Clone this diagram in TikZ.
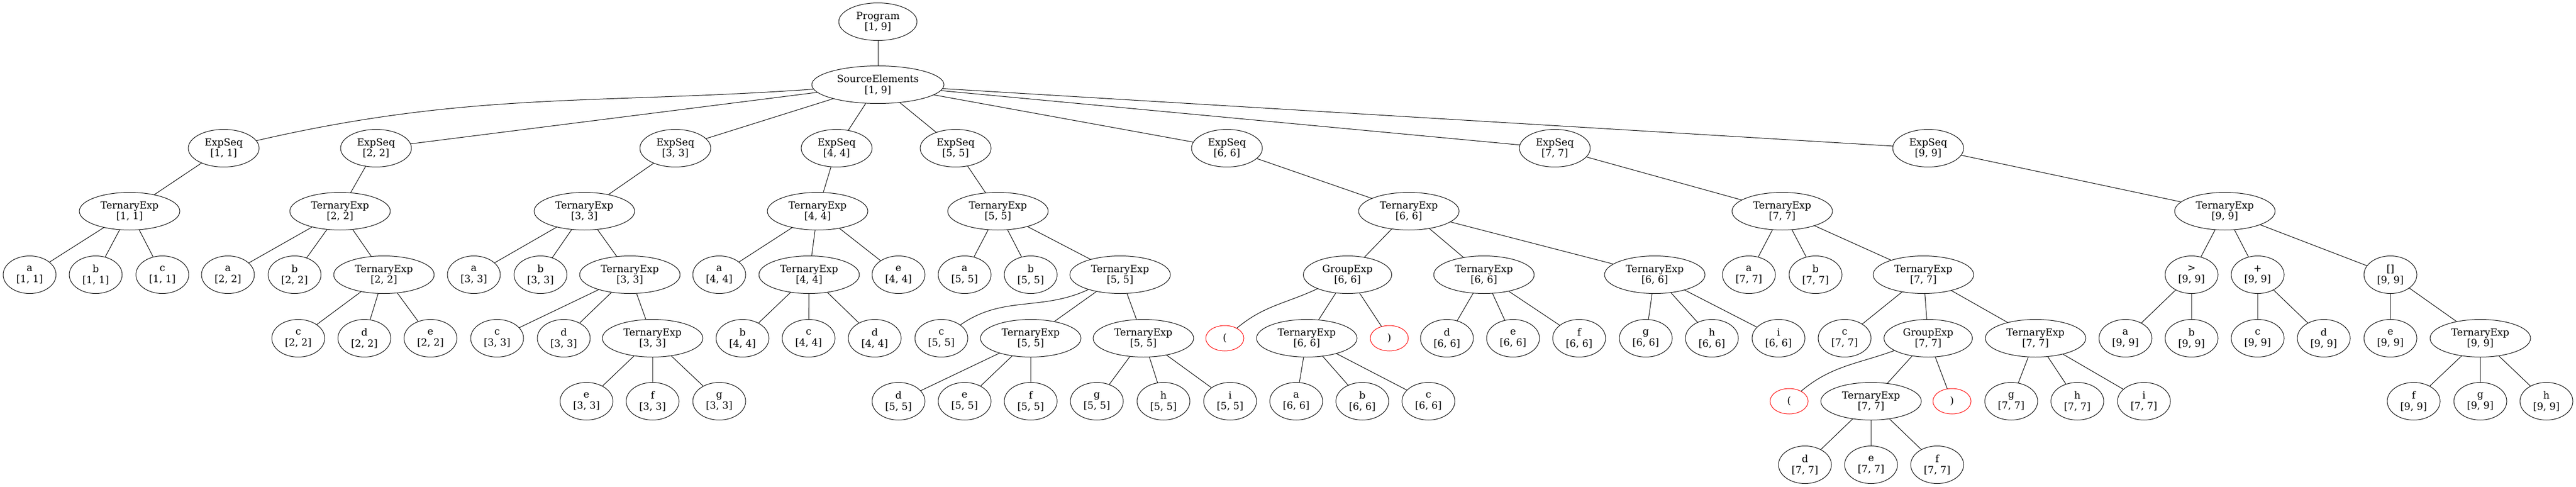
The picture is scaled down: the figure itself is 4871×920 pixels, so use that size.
\documentclass[tikz,border=0pt]{standalone}
\usepackage{fontspec}
\setmainfont{DejaVu Serif}
\usetikzlibrary{shapes.geometric}
\begin{document}
\begin{tikzpicture}[line cap=round,line join=round,x=0.75pt,y=0.75pt,line width=0.75pt,
	every node/.style={font=\fontsize{14}{15.5}\selectfont,align=center,inner sep=0pt},
	tn/.style={draw,ellipse,minimum height=53.25pt,minimum width=#1},
	tn/.default=75pt,
	paren/.style={draw=red,ellipse,minimum width=54pt,minimum height=36pt}]
				\useasboundingbox (0,0) rectangle (4871,-920);
				\node[tn=111pt] (prog) at (1660,-41) {Program\\{[1, 9]}};
				\node[tn=187.5pt] (se) at (1660,-160) {SourceElements\\{[1, 9]}};
				\node[tn=100.5pt] (es1) at (423,-280) {ExpSeq\\{[1, 1]}};
				\node[tn=100.5pt] (es2) at (711,-280) {ExpSeq\\{[2, 2]}};
				\node[tn=100.5pt] (es3) at (1277,-280) {ExpSeq\\{[3, 3]}};
				\node[tn=100.5pt] (es4) at (1582,-280) {ExpSeq\\{[4, 4]}};
				\node[tn=100.5pt] (es5) at (1807,-280) {ExpSeq\\{[5, 5]}};
				\node[tn=100.5pt] (es6) at (2320,-280) {ExpSeq\\{[6, 6]}};
				\node[tn=100.5pt] (es7) at (2940,-280) {ExpSeq\\{[7, 7]}};
				\node[tn=100.5pt] (es9) at (3646,-280) {ExpSeq\\{[9, 9]}};
				\node[tn=142.5pt] (te1) at (245,-399) {TernaryExp\\{[1, 1]}};
				\node[tn=142.5pt] (te2) at (643,-399) {TernaryExp\\{[2, 2]}};
				\node[tn=142.5pt] (te3) at (1105,-399) {TernaryExp\\{[3, 3]}};
				\node[tn=142.5pt] (te4) at (1546,-399) {TernaryExp\\{[4, 4]}};
				\node[tn=142.5pt] (te5) at (1887,-399) {TernaryExp\\{[5, 5]}};
				\node[tn=142.5pt] (te6) at (2664,-399) {TernaryExp\\{[6, 6]}};
				\node[tn=142.5pt] (te7) at (3370,-399) {TernaryExp\\{[7, 7]}};
				\node[tn=142.5pt] (te9) at (4207,-399) {TernaryExp\\{[9, 9]}};
				\node[tn] (a1) at (56,-519) {a\\{[1, 1]}};
				\node[tn] (b1) at (181,-519) {b\\{[1, 1]}};
				\node[tn] (c1) at (307,-519) {c\\{[1, 1]}};
				\node[tn] (a2) at (431,-519) {a\\{[2, 2]}};
				\node[tn] (b2) at (557,-519) {b\\{[2, 2]}};
				\node[tn=142.5pt] (te2b) at (726,-519) {TernaryExp\\{[2, 2]}};
				\node[tn] (a3) at (896,-519) {a\\{[3, 3]}};
				\node[tn] (b3) at (1022,-519) {b\\{[3, 3]}};
				\node[tn=142.5pt] (te3b) at (1191,-519) {TernaryExp\\{[3, 3]}};
				\node[tn] (a4) at (1360,-519) {a\\{[4, 4]}};
				\node[tn=142.5pt] (te4b) at (1530,-519) {TernaryExp\\{[4, 4]}};
				\node[tn] (e4) at (1699,-519) {e\\{[4, 4]}};
				\node[tn] (a5) at (1824,-519) {a\\{[5, 5]}};
				\node[tn] (b5) at (1949,-519) {b\\{[5, 5]}};
				\node[tn=142.5pt] (te5b) at (2118,-519) {TernaryExp\\{[5, 5]}};
				\node[tn=125.25pt] (ge6) at (2548,-519) {GroupExp\\{[6, 6]}};
				\node[tn=142.5pt] (te6d) at (2806,-519) {TernaryExp\\{[6, 6]}};
				\node[tn=142.5pt] (te6g) at (3129,-519) {TernaryExp\\{[6, 6]}};
				\node[tn] (a7) at (3307,-519) {a\\{[7, 7]}};
				\node[tn] (b7) at (3433,-519) {b\\{[7, 7]}};
				\node[tn=142.5pt] (te7b) at (3637,-519) {TernaryExp\\{[7, 7]}};
				\node[tn] (gt9) at (4144,-519) {>\\{[9, 9]}};
				\node[tn] (pl9) at (4269,-519) {+\\{[9, 9]}};
				\node[tn] (br9) at (4520,-519) {{[]}\\{[9, 9]}};
				\node[tn] (c2) at (564,-639) {c\\{[2, 2]}};
				\node[tn] (d2) at (689,-639) {d\\{[2, 2]}};
				\node[tn] (e2) at (814,-639) {e\\{[2, 2]}};
				\node[tn] (c3) at (940,-639) {c\\{[3, 3]}};
				\node[tn] (d3) at (1066,-639) {d\\{[3, 3]}};
				\node[tn=142.5pt] (te3c) at (1234,-639) {TernaryExp\\{[3, 3]}};
				\node[tn] (b4) at (1404,-639) {b\\{[4, 4]}};
				\node[tn] (c4) at (1529,-639) {c\\{[4, 4]}};
				\node[tn] (d4) at (1654,-639) {d\\{[4, 4]}};
				\node[tn] (c5) at (1780,-639) {c\\{[5, 5]}};
				\node[tn=142.5pt] (te5c) at (1949,-639) {TernaryExp\\{[5, 5]}};
				\node[tn=142.5pt] (te5g) at (2162,-639) {TernaryExp\\{[5, 5]}};
				\node[paren] (lp6) at (2316,-639) {(};
				\node[tn=142.5pt] (te6a) at (2471,-639) {TernaryExp\\{[6, 6]}};
				\node[paren] (rp6) at (2627,-639) {)};
				\node[tn] (d6) at (2736,-639) {d\\{[6, 6]}};
				\node[tn] (e6) at (2861,-639) {e\\{[6, 6]}};
				\node[tn] (f6) at (2986,-639) {f\\{[6, 6]}};
				\node[tn] (g6) at (3112,-639) {g\\{[6, 6]}};
				\node[tn] (h6) at (3237,-639) {h\\{[6, 6]}};
				\node[tn] (i6) at (3363,-639) {i\\{[6, 6]}};
				\node[tn] (c7) at (3488,-639) {c\\{[7, 7]}};
				\node[tn=125.25pt] (ge7) at (3646,-639) {GroupExp\\{[7, 7]}};
				\node[tn=142.5pt] (te7g) at (3849,-639) {TernaryExp\\{[7, 7]}};
				\node[tn] (a9) at (4019,-639) {a\\{[9, 9]}};
				\node[tn] (b9) at (4144,-639) {b\\{[9, 9]}};
				\node[tn] (c9) at (4269,-639) {c\\{[9, 9]}};
				\node[tn] (d9) at (4394,-639) {d\\{[9, 9]}};
				\node[tn] (e9) at (4520,-639) {e\\{[9, 9]}};
				\node[tn=142.5pt] (te9f) at (4690,-639) {TernaryExp\\{[9, 9]}};
				\node[tn] (e3) at (1109,-758) {e\\{[3, 3]}};
				\node[tn] (f3) at (1234,-758) {f\\{[3, 3]}};
				\node[tn] (g3) at (1360,-758) {g\\{[3, 3]}};
				\node[tn] (d5) at (1699,-758) {d\\{[5, 5]}};
				\node[tn] (e5) at (1824,-758) {e\\{[5, 5]}};
				\node[tn] (f5) at (1949,-758) {f\\{[5, 5]}};
				\node[tn] (g5) at (2074,-758) {g\\{[5, 5]}};
				\node[tn] (h5) at (2200,-758) {h\\{[5, 5]}};
				\node[tn] (i5) at (2326,-758) {i\\{[5, 5]}};
				\node[tn] (a6) at (2451,-758) {a\\{[6, 6]}};
				\node[tn] (b6) at (2576,-758) {b\\{[6, 6]}};
				\node[tn] (c6) at (2701,-758) {c\\{[6, 6]}};
				\node[paren] (lp7) at (3383,-758) {(};
				\node[tn=142.5pt] (te7d) at (3538,-758) {TernaryExp\\{[7, 7]}};
				\node[paren] (rp7) at (3691,-758) {)};
				\node[tn] (g7) at (3803,-758) {g\\{[7, 7]}};
				\node[tn] (h7) at (3928,-758) {h\\{[7, 7]}};
				\node[tn] (i7) at (4054,-758) {i\\{[7, 7]}};
				\node[tn] (f9) at (4564,-758) {f\\{[9, 9]}};
				\node[tn] (g9) at (4690,-758) {g\\{[9, 9]}};
				\node[tn] (h9) at (4815,-758) {h\\{[9, 9]}};
				\node[tn] (d7) at (3413,-878) {d\\{[7, 7]}};
				\node[tn] (e7) at (3538,-878) {e\\{[7, 7]}};
				\node[tn] (f7) at (3663,-878) {f\\{[7, 7]}};
				\draw (prog) -- (se);
				\draw (se) to[out=184,in=13] (es1);
				\draw (se) -- (es2) (se) -- (es3) (se) -- (es4) (se) -- (es5) (se) -- (es6) (se) -- (es7) (se) -- (es9);
				\draw (es1) -- (te1) (es2) -- (te2) (es3) -- (te3) (es4) -- (te4) (es5) -- (te5) (es6) -- (te6) (es7) -- (te7) (es9) -- (te9);
				\draw (te1) -- (a1) (te1) -- (b1) (te1) -- (c1);
				\draw (te2) -- (a2) (te2) -- (b2) (te2) -- (te2b);
				\draw (te2b) -- (c2) (te2b) -- (d2) (te2b) -- (e2);
				\draw (te3) -- (a3) (te3) -- (b3) (te3) -- (te3b);
				\draw (te3b) -- (c3) (te3b) -- (d3) (te3b) -- (te3c);
				\draw (te3c) -- (e3) (te3c) -- (f3) (te3c) -- (g3);
				\draw (te4) -- (a4) (te4) -- (te4b) (te4) -- (e4);
				\draw (te4b) -- (b4) (te4b) -- (c4) (te4b) -- (d4);
				\draw (te5) -- (a5) (te5) -- (b5) (te5) -- (te5b);
				\draw (te5b) to[out=205,in=35] (c5);
				\draw (te5b) -- (te5c) (te5b) -- (te5g);
				\draw (te5c) -- (d5) (te5c) -- (e5) (te5c) -- (f5);
				\draw (te5g) -- (g5) (te5g) -- (h5) (te5g) -- (i5);
				\draw (te6) -- (ge6) (te6) -- (te6d) (te6) -- (te6g);
				\draw (ge6) to[out=205,in=40] (lp6);
				\draw (ge6) -- (te6a) (ge6) -- (rp6);
				\draw (te6a) -- (a6) (te6a) -- (b6) (te6a) -- (c6);
				\draw (te6d) -- (d6) (te6d) -- (e6) (te6d) -- (f6);
				\draw (te6g) -- (g6) (te6g) -- (h6) (te6g) -- (i6);
				\draw (te7) -- (a7) (te7) -- (b7) (te7) -- (te7b);
				\draw (te7b) -- (c7) (te7b) -- (ge7) (te7b) -- (te7g);
				\draw (ge7) to[out=200,in=40] (lp7);
				\draw (ge7) -- (te7d) (ge7) -- (rp7);
				\draw (te7d) -- (d7) (te7d) -- (e7) (te7d) -- (f7);
				\draw (te7g) -- (g7) (te7g) -- (h7) (te7g) -- (i7);
				\draw (te9) -- (gt9) (te9) -- (pl9) (te9) -- (br9);
				\draw (gt9) -- (a9) (gt9) -- (b9);
				\draw (pl9) -- (c9) (pl9) -- (d9);
				\draw (br9) -- (e9) (br9) -- (te9f);
				\draw (te9f) -- (f9) (te9f) -- (g9) (te9f) -- (h9);
			\end{tikzpicture}
\end{document}
